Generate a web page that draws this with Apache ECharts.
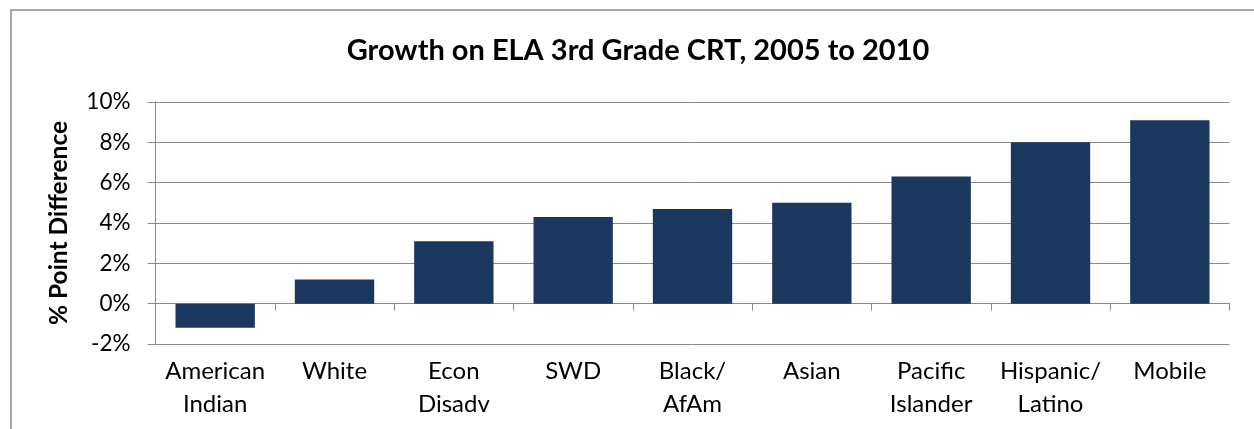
<!DOCTYPE html>
<html>
<head>
<meta charset="utf-8">
<script src="https://cdn.jsdelivr.net/npm/echarts@6/dist/echarts.min.js"></script>
<style>
  html, body { margin: 0; padding: 0; background: #fff; }
  #chart { width: 1254px; height: 429px; }
</style>
</head>
<body>
<div id="chart"></div>
<script>
// data
const categories = ['American\nIndian', 'White', 'Econ\nDisadv', 'SWD', 'Black/\nAfAm', 'Asian', 'Pacific\nIslander', 'Hispanic/\nLatino', 'Mobile'];
const growth = [-1.2, 1.2, 3.1, 4.3, 4.7, 5.0, 6.3, 8.0, 9.1];
const yTicks = { min: -2, max: 10, interval: 2 };

const font = 'Lato';
const gray = '#8a8a8a';

let chart = echarts.init(document.getElementById('chart'), null, { renderer: 'canvas' });

let option = {
    animation: false,
    backgroundColor: '#fff',
    title: {
        text: 'Growth on ELA 3rd Grade CRT, 2005 to 2010',
        left: 633,
        textAlign: 'center',
        top: 31,
        textStyle: { fontFamily: font, fontSize: 29, fontWeight: 'bold', color: '#000' }
    },
    graphic: [{
        type: 'rect',
        shape: { x: 11, y: 10, width: 1400, height: 600 },
        style: { fill: 'none', stroke: gray, lineWidth: 1.5 },
        silent: true
    }],
    grid: { left: 155.5, right: 24.5, top: 102, bottom: 85 },
    xAxis: [
        {
            // axis line sitting at 0% with the ticks
            type: 'category',
            data: categories,
            position: 'bottom',
            axisLine: { onZero: true, lineStyle: { color: gray, width: 1 } },
            axisTick: { show: true, length: 7, interval: 0, lineStyle: { color: gray } },
            axisLabel: { show: false }
        },
        {
            // labels only, at the bottom of the plot ("low" position)
            type: 'category',
            data: categories,
            position: 'bottom',
            axisLine: { show: false, onZero: false },
            axisTick: { show: false },
            axisLabel: {
                interval: 0,
                margin: 11,
                fontFamily: font, fontSize: 24, color: '#000', lineHeight: 33
            }
        }
    ],
    yAxis: {
        type: 'value',
        min: yTicks.min,
        max: yTicks.max,
        interval: yTicks.interval,
        name: '% Point Difference',
        nameLocation: 'middle',
        nameGap: 84,
        nameTextStyle: { fontFamily: font, fontSize: 24.5, fontWeight: 'bold', color: '#000' },
        axisLine: { show: true, lineStyle: { color: gray, width: 1 } },
        axisTick: { show: true, length: 8, lineStyle: { color: gray } },
        axisLabel: {
            margin: 25,
            fontFamily: font, fontSize: 22.5, color: '#000',
            formatter: v => v + '%'
        },
        splitLine: { show: true, lineStyle: { color: gray, width: 1 } }
    },
    series: [{
        type: 'bar',
        xAxisIndex: 0,
        data: growth,
        barCategoryGap: '33.5%',
        itemStyle: { color: '#1b375e' }
    }]
};

chart.setOption(option);
</script>
</body>
</html>
